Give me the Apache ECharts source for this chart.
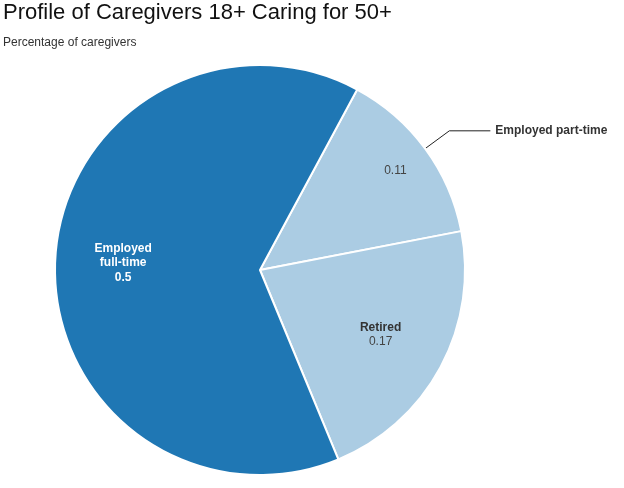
<!DOCTYPE html>
<html>
<head>
<meta charset="utf-8">
<script src="https://cdn.jsdelivr.net/npm/echarts@6/dist/echarts.min.js"></script>
<style>
html,body{margin:0;padding:0;background:#fff;}
#chart{width:624px;height:488px;}
</style>
</head>
<body>
<div id="chart"></div>
<script>
// Data (order = clockwise from the part-time slice)
const categories = ['Employed part-time', 'Retired', 'Employed full-time'];
const values = [0.11, 0.17, 0.5];
const colors = ['#abcce3', '#abcce3', '#1f77b4'];

const FONT = '"Liberation Sans", Arial, Helvetica, sans-serif';
const CENTER = [260, 270];
const START = 61.7;

const chart = echarts.init(document.getElementById('chart'), null, {renderer: 'canvas'});

// Main visible pie (only part-time name shown outside with a leader line)
const mainData = categories.map((name, i) => ({
  name: name,
  value: values[i],
  itemStyle: {color: colors[i]},
  label: name === 'Employed part-time'
    ? {show: true, position: 'outside', formatter: '{b}', color: '#333', fontWeight: 'bold', fontSize: 12, fontFamily: FONT}
    : {show: false},
  labelLine: name === 'Employed part-time'
    ? {show: true, length: 30, length2: 41, lineStyle: {color: '#222', width: 1}}
    : {show: false}
}));

// Transparent overlay for name/value labels of full-time and retired
const labelData = categories.map((name, i) => {
  let label = {show: false};
  if (name === 'Employed full-time') {
    label = {
      show: true, position: 'inside',
      formatter: p => name.split(' ').map(s => '{w|' + s + '}').join('\n') + '\n{w|' + p.value + '}',
      rich: {w: {color: '#fff', fontWeight: 'bold', fontSize: 12, lineHeight: 14.5, fontFamily: FONT, align: 'center'}}
    };
  } else if (name === 'Retired') {
    label = {
      show: true, position: 'inside',
      formatter: p => '{n|' + p.name + '}\n{v|' + p.value + '}',
      rich: {
        n: {color: '#333', fontWeight: 'bold', fontSize: 12, lineHeight: 14, fontFamily: FONT, align: 'center'},
        v: {color: '#444', fontSize: 12, lineHeight: 14, fontFamily: FONT, align: 'center'}
      }
    };
  }
  return {name: name, value: values[i], itemStyle: {color: 'transparent', borderWidth: 0}, label: label};
});

// Transparent overlay for the part-time value label
const valueData = categories.map((name, i) => ({
  name: name,
  value: values[i],
  itemStyle: {color: 'transparent', borderWidth: 0},
  label: name === 'Employed part-time'
    ? {show: true, position: 'inside', formatter: '{c}', color: '#444', fontSize: 12, fontFamily: FONT}
    : {show: false}
}));

chart.setOption({
  animation: false,
  title: {
    text: 'Profile of Caregivers 18+ Caring for 50+',
    subtext: 'Percentage of caregivers',
    left: 3,
    top: 2,
    padding: 0,
    itemGap: 13,
    textStyle: {fontSize: 22, fontWeight: 'normal', color: '#111', fontFamily: FONT},
    subtextStyle: {fontSize: 12, color: '#333', fontFamily: FONT}
  },
  series: [
    {
      type: 'pie', center: CENTER, radius: 205, startAngle: START, clockwise: true,
      avoidLabelOverlap: false, silent: true,
      itemStyle: {borderColor: '#fff', borderWidth: 2},
      emphasis: {disabled: true},
      data: mainData
    },
    {
      type: 'pie', center: CENTER, radius: 268, startAngle: START, clockwise: true,
      avoidLabelOverlap: false, silent: true, z: 3,
      labelLine: {show: false},
      emphasis: {disabled: true},
      data: labelData
    },
    {
      type: 'pie', center: CENTER, radius: 330, startAngle: START, clockwise: true,
      avoidLabelOverlap: false, silent: true, z: 3,
      labelLine: {show: false},
      emphasis: {disabled: true},
      data: valueData
    }
  ]
});
</script>
</body>
</html>
